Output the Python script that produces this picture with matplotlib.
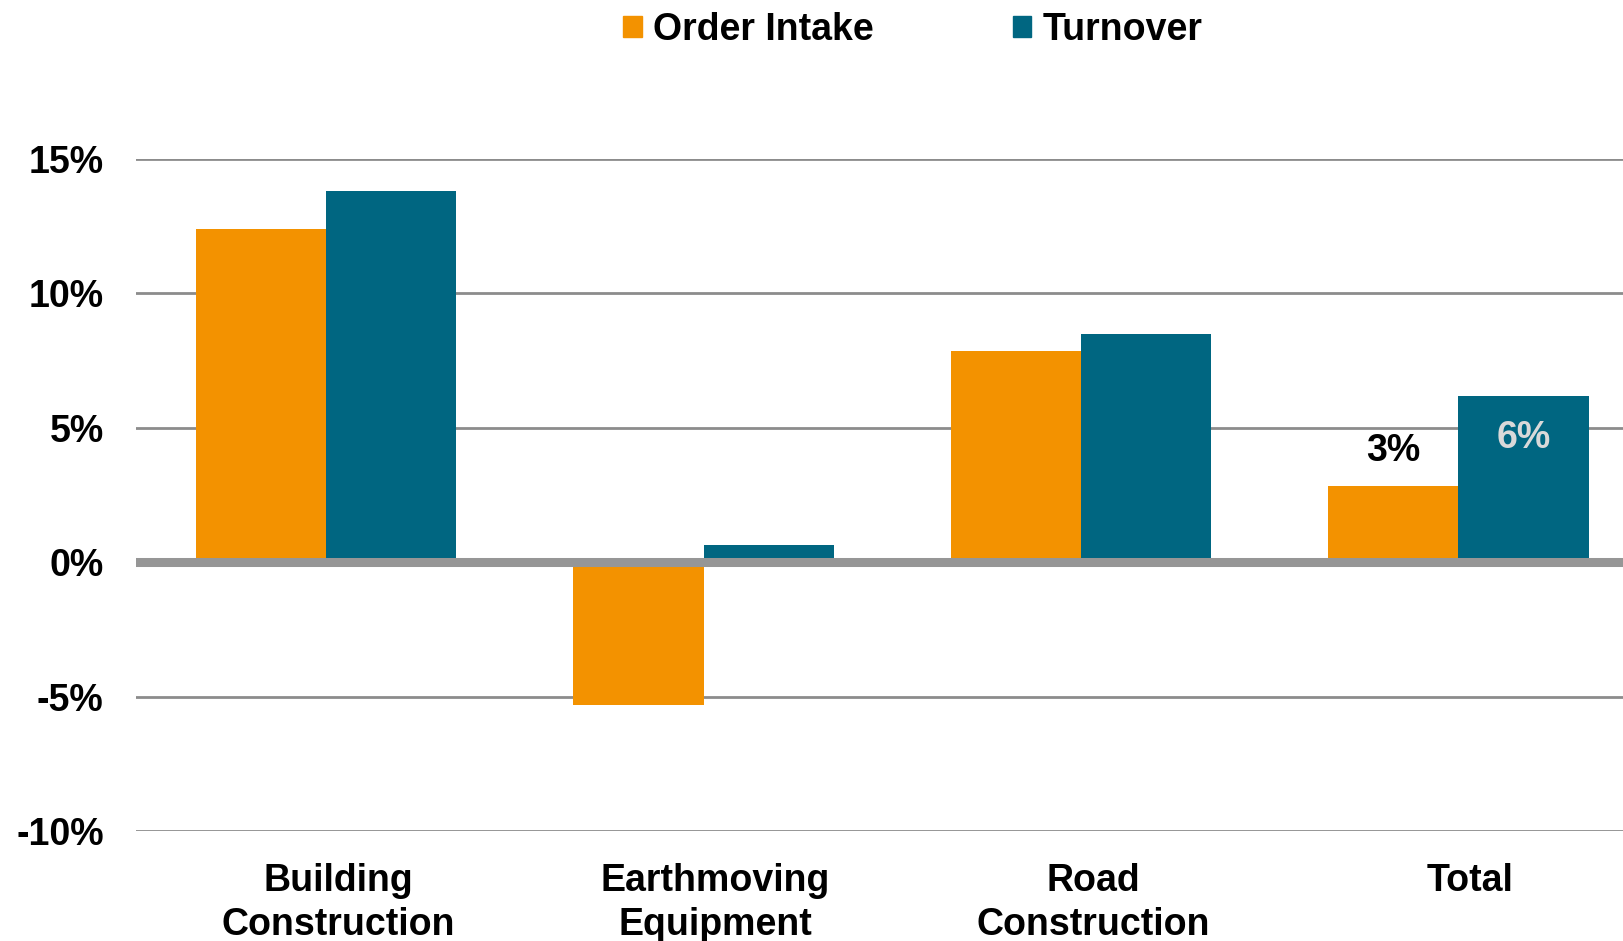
import matplotlib
matplotlib.use("Agg")
import matplotlib.pyplot as plt
import matplotlib.transforms as mtransforms
from matplotlib.patches import Patch
import numpy as np

categories = ["Building\nConstruction", "Earthmoving\nEquipment", "Road\nConstruction", "Total"]
order_intake = [12.4, -5.3, 7.85, 2.85]
turnover = [13.8, 0.65, 8.5, 6.2]
yticks = [-10, -5, 0, 5, 10, 15]
ytick_labels = ["-10%", "-5%", "0%", "5%", "10%", "15%"]
series_names = ["Order Intake", "Turnover"]

ORANGE = "#F39200"
TEAL = "#006681"
GRID = "#8C8C8C"

plt.rcParams['font.family'] = ['Liberation Sans', 'DejaVu Sans']
plt.rcParams['font.weight'] = 'bold'

fig = plt.figure(figsize=(16.23, 9.41), dpi=100)
ax = fig.add_axes([0.0836, 0.1169, 1 - 0.0836, 0.831 - 0.1169])

x = np.arange(len(categories))
w = 0.345
ax.bar(x - w / 2, order_intake, w, color=ORANGE, zorder=2)
ax.bar(x + w / 2, turnover, w, color=TEAL, zorder=2)

for yv in yticks:
    if yv == 0:
        ax.axhline(0, color="#969696", lw=6.5, zorder=3)
    else:
        ax.axhline(yv, color=GRID, lw=2.0, zorder=1)

ax.set_xlim(-0.505, 3.436)
ax.set_ylim(-10, 15)
ax.set_yticks(yticks)
ax.set_yticklabels(ytick_labels, fontsize=27, fontweight='bold')
ax.tick_params(axis='y', length=0, pad=23)
ax.set_xticks(x)
ax.set_xticklabels(categories, fontsize=27, fontweight='bold', linespacing=1.28)
ax.tick_params(axis='x', length=0, pad=23)
offset = mtransforms.ScaledTranslation(12 / 100, 0, fig.dpi_scale_trans)
for lab in ax.get_xticklabels():
    lab.set_transform(lab.get_transform() + offset)
for s in ax.spines.values():
    s.set_visible(False)

# data labels for Total
ax.annotate(f"{order_intake[3]:.0f}%", (x[3] - w / 2, order_intake[3]), xytext=(0, 35),
            textcoords='offset pixels', ha='center', va='center', fontsize=27,
            fontweight='bold', color='black', zorder=4)
ax.annotate(f"{turnover[3]:.0f}%", (x[3] + w / 2, turnover[3]), xytext=(0, -42),
            textcoords='offset pixels', ha='center', va='center', fontsize=27,
            fontweight='bold', color='#D9D9D9', zorder=4)

handles = [Patch(color=ORANGE), Patch(color=TEAL)]
fig.legend(handles, series_names, loc='center', bbox_to_anchor=(0.5625, 0.968), ncol=2,
           frameon=False, handlelength=0.5, handleheight=0.5,
           handletextpad=0.3, columnspacing=3.7, prop={'weight': 'bold', 'size': 27})

fig.savefig("out.png", dpi=100)
